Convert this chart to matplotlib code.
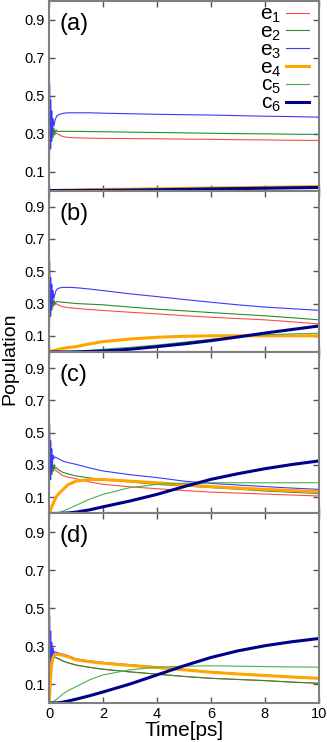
import matplotlib.pyplot as plt

plt.rcParams['font.family'] = ['Liberation Sans', 'DejaVu Sans']
plt.rcParams['mathtext.fontset'] = 'custom'
plt.rcParams['mathtext.rm'] = 'Liberation Sans'
plt.rcParams['mathtext.it'] = 'Liberation Sans'

# time grid (ps), dense near zero for the fast transient
t = [0, 0.02, 0.04, 0.06, 0.08, 0.1, 0.12, 0.15, 0.18, 0.22, 0.26, 0.3, 0.4,
     0.5, 0.7, 1, 1.5, 2, 3, 4, 5, 6, 7, 8, 9, 10]

# panel (a)
a_e1 = [1.0, 0.50, 0.36, 0.30, 0.36, 0.31, 0.34, 0.31, 0.32, 0.31, 0.305, 0.30, 0.292,
        0.285, 0.28, 0.278, 0.276, 0.275, 0.274, 0.273, 0.271, 0.27, 0.268, 0.267, 0.265, 0.264]
a_e2 = [0.0, 0.20, 0.34, 0.22, 0.34, 0.26, 0.33, 0.28, 0.33, 0.30, 0.32, 0.312, 0.312,
        0.312, 0.312, 0.312, 0.311, 0.31, 0.308, 0.306, 0.304, 0.302, 0.30, 0.299, 0.297, 0.296]
a_e3 = [0.0, 0.56, 0.22, 0.48, 0.26, 0.42, 0.30, 0.38, 0.34, 0.37, 0.385, 0.395, 0.402,
        0.407, 0.41, 0.41, 0.41, 0.408, 0.405, 0.402, 0.40, 0.398, 0.395, 0.392, 0.39, 0.387]
a_e4 = [0, 0, 0, 0, 0, 0, 0, 0, 0, 0, 0, 0, 0.001,
        0.002, 0.002, 0.003, 0.004, 0.005, 0.007, 0.009, 0.011, 0.013, 0.015, 0.017, 0.019, 0.021]
a_c5 = [0, 0, 0, 0, 0, 0, 0, 0, 0, 0, 0, 0, 0,
        0.001, 0.001, 0.002, 0.003, 0.004, 0.006, 0.008, 0.010, 0.012, 0.014, 0.016, 0.017, 0.018]
a_c6 = [0, 0, 0, 0, 0, 0, 0, 0, 0, 0, 0, 0, 0,
        0, 0, 0, 0.001, 0.001, 0.002, 0.004, 0.006, 0.008, 0.010, 0.012, 0.014, 0.016]

# panel (b)
b_e1 = [1.0, 0.50, 0.36, 0.30, 0.36, 0.31, 0.34, 0.30, 0.32, 0.30, 0.30, 0.295, 0.287,
        0.28, 0.275, 0.27, 0.263, 0.257, 0.246, 0.236, 0.225, 0.215, 0.207, 0.199, 0.187, 0.174]
b_e2 = [0.0, 0.20, 0.34, 0.22, 0.33, 0.26, 0.32, 0.28, 0.32, 0.30, 0.31, 0.312, 0.31,
        0.308, 0.305, 0.30, 0.296, 0.292, 0.278, 0.265, 0.255, 0.244, 0.234, 0.224, 0.212, 0.199]
b_e3 = [0.0, 0.56, 0.22, 0.46, 0.26, 0.42, 0.30, 0.38, 0.33, 0.36, 0.38, 0.39, 0.397,
        0.40, 0.40, 0.398, 0.39, 0.38, 0.36, 0.343, 0.325, 0.308, 0.292, 0.278, 0.268, 0.258]
b_e4 = [0, 0.001, 0.002, 0.003, 0.004, 0.005, 0.006, 0.007, 0.008, 0.01, 0.012, 0.014, 0.018,
        0.022, 0.027, 0.033, 0.05, 0.064, 0.08, 0.091, 0.097, 0.1, 0.1, 0.1, 0.1, 0.1]
b_c5 = [0, 0, 0, 0, 0, 0, 0, 0, 0, 0, 0, 0, 0,
        0.001, 0.002, 0.004, 0.01, 0.017, 0.029, 0.043, 0.061, 0.079, 0.094, 0.106, 0.112, 0.116]
b_c6 = [0, 0, 0, 0, 0, 0, 0, 0, 0, 0, 0, 0, 0,
        0, 0, 0.001, 0.003, 0.006, 0.017, 0.033, 0.05, 0.07, 0.093, 0.117, 0.139, 0.161]

# panel (c)
c_e1 = [1.0, 0.48, 0.34, 0.28, 0.34, 0.29, 0.31, 0.28, 0.29, 0.27, 0.265, 0.26, 0.248,
        0.235, 0.225, 0.215, 0.195, 0.18, 0.165, 0.153, 0.142, 0.132, 0.126, 0.12, 0.114, 0.108]
c_e2 = [0.0, 0.20, 0.32, 0.21, 0.31, 0.24, 0.30, 0.26, 0.30, 0.28, 0.285, 0.277, 0.265,
        0.255, 0.245, 0.232, 0.22, 0.211, 0.195, 0.18, 0.17, 0.16, 0.15, 0.139, 0.131, 0.124]
c_e3 = [0.0, 0.55, 0.21, 0.45, 0.25, 0.40, 0.28, 0.36, 0.34, 0.35, 0.346, 0.343, 0.334,
        0.325, 0.315, 0.304, 0.282, 0.263, 0.24, 0.222, 0.2, 0.186, 0.176, 0.166, 0.157, 0.149]
c_e4 = [0, 0.008, 0.016, 0.024, 0.032, 0.04, 0.048, 0.06, 0.072, 0.086, 0.1, 0.11, 0.13,
        0.145, 0.178, 0.2, 0.21, 0.21, 0.2, 0.19, 0.178, 0.166, 0.157, 0.149, 0.142, 0.135]
c_c5 = [0, 0, 0, 0, 0, 0, 0, 0, 0.001, 0.001, 0.002, 0.004, 0.008,
        0.013, 0.027, 0.05, 0.088, 0.118, 0.16, 0.18, 0.187, 0.19, 0.19, 0.19, 0.19, 0.19]
c_c6 = [0, 0, 0, 0, 0, 0, 0, 0, 0, 0, 0, 0, 0,
        0.001, 0.003, 0.008, 0.022, 0.041, 0.077, 0.118, 0.166, 0.211, 0.246, 0.277, 0.303, 0.325]

# panel (d)
d_e1 = [1.0, 0.38, 0.28, 0.22, 0.27, 0.23, 0.26, 0.23, 0.25, 0.24, 0.24, 0.236, 0.23,
        0.222, 0.212, 0.2, 0.188, 0.178, 0.164, 0.152, 0.14, 0.13, 0.124, 0.118, 0.11, 0.104]
d_e2 = [0.0, 0.16, 0.26, 0.19, 0.25, 0.21, 0.25, 0.22, 0.245, 0.24, 0.24, 0.236, 0.23,
        0.222, 0.212, 0.2, 0.188, 0.178, 0.164, 0.152, 0.14, 0.13, 0.124, 0.118, 0.11, 0.104]
d_e3 = [0.0, 0.46, 0.18, 0.38, 0.21, 0.32, 0.24, 0.29, 0.26, 0.27, 0.268, 0.265, 0.262,
        0.258, 0.25, 0.233, 0.222, 0.214, 0.202, 0.19, 0.177, 0.165, 0.155, 0.147, 0.139, 0.132]
d_e4 = [0, 0.04, 0.09, 0.14, 0.18, 0.21, 0.225, 0.24, 0.248, 0.253, 0.255, 0.256, 0.255,
        0.252, 0.244, 0.228, 0.218, 0.21, 0.198, 0.187, 0.175, 0.162, 0.153, 0.145, 0.137, 0.13]
d_c5 = [0, 0, 0, 0.001, 0.002, 0.003, 0.004, 0.006, 0.009, 0.013, 0.017, 0.021, 0.033,
        0.046, 0.065, 0.086, 0.122, 0.148, 0.175, 0.189, 0.194, 0.196, 0.194, 0.192, 0.19, 0.189]
d_c6 = [0, 0, 0, 0, 0, 0, 0, 0, 0, 0, 0, 0, 0.002,
        0.004, 0.01, 0.02, 0.038, 0.058, 0.1, 0.148, 0.196, 0.24, 0.275, 0.302, 0.323, 0.34]

panels = [
    ('(a)', [a_e1, a_e2, a_e3, a_e4, a_c5, a_c6]),
    ('(b)', [b_e1, b_e2, b_e3, b_e4, b_c5, b_c6]),
    ('(c)', [c_e1, c_e2, c_e3, c_e4, c_c5, c_c6]),
    ('(d)', [d_e1, d_e2, d_e3, d_e4, d_c5, d_c6]),
]

labels = ['e$_1$', 'e$_2$', 'e$_3$', 'e$_4$', 'c$_5$', 'c$_6$']
colors = ['#ff4a4a', '#2e8a2e', '#3a3aff', '#ffa500', '#4caf4c', '#00008b']
widths = [0.8, 0.8, 0.8, 2.2, 0.8, 2.2]

yticks = [0.1, 0.3, 0.5, 0.7, 0.9]
xticks = [0, 2, 4, 6, 8, 10]

fig = plt.figure(figsize=(3.27, 7.42), dpi=100)
gs = fig.add_gridspec(4, 1, height_ratios=[189, 161, 161, 189], hspace=0,
                      left=0.15, right=0.975, top=0.9987, bottom=0.0526)

for i, (tag, series) in enumerate(panels):
    ax = fig.add_subplot(gs[i])
    for y, lab, col, lw in zip(series, labels, colors, widths):
        ax.plot(t, y, color=col, lw=lw, label=lab)
    ax.set_xlim(0, 10)
    ax.set_ylim(0, 1)
    ax.set_yticks(yticks)
    ax.set_xticks(xticks)
    ax.tick_params(direction='in', length=4, width=1, color='#555555',
                   top=True, right=True, labelsize=10.5, pad=3)
    for sp in ax.spines.values():
        sp.set_color('#808080')
        sp.set_linewidth(1.5)
    ax.annotate(tag, xy=(0, 1), xycoords='axes fraction', xytext=(10, -23),
                textcoords='offset pixels', fontsize=17, va='center', ha='left')
    if i < 3:
        ax.tick_params(labelbottom=False)
    else:
        ax.set_xlabel('Time[ps]', fontsize=15, labelpad=0)
    if i == 0:
        ax.legend(loc='upper right', bbox_to_anchor=(1.011, 1.045), frameon=False,
                  markerfirst=False, fontsize=15, handlelength=1.1,
                  handletextpad=0.25, labelspacing=-0.12, borderaxespad=0.2)

fig.text(0.003, 0.517, 'Population', rotation=90, va='center', ha='left', fontsize=14)

plt.savefig('out.png', dpi=100)
